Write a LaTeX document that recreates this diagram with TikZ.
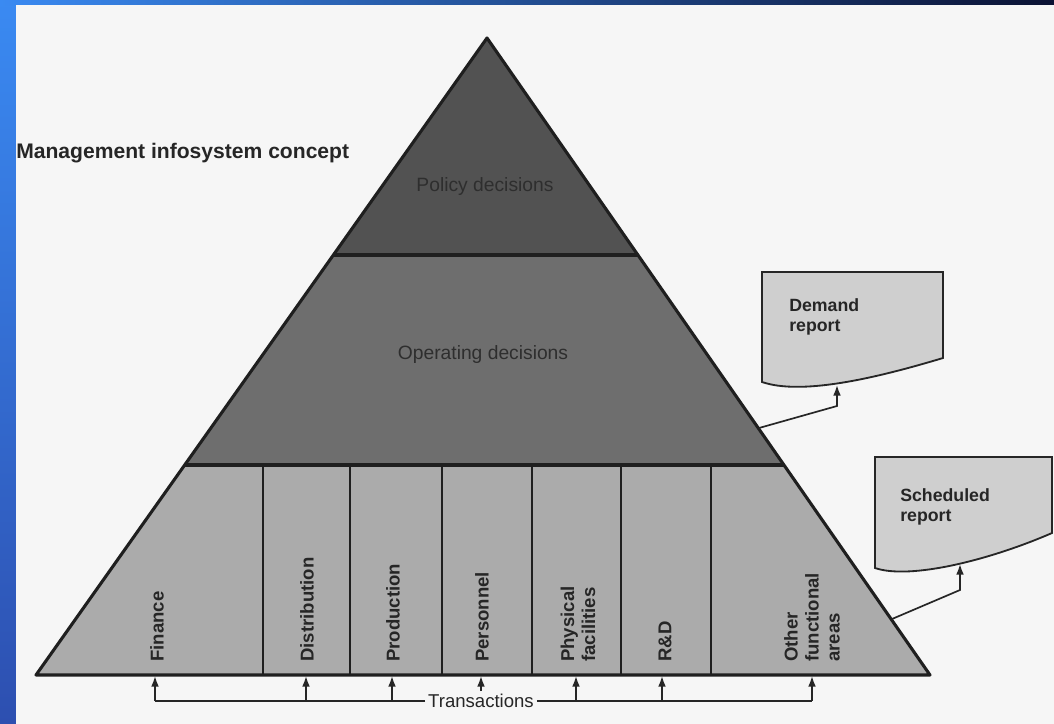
\documentclass[tikz,border=0pt]{standalone}
\usepackage{fontspec}
\setmainfont{Liberation Sans}
\usetikzlibrary{arrows.meta}

\definecolor{frameA}{HTML}{3A8AF2}
\definecolor{frameB}{HTML}{3F4CF8}
\definecolor{frameC}{HTML}{2D4FB0}
\definecolor{frameD}{HTML}{0B1233}
\definecolor{page}{HTML}{F6F6F6}

\begin{document}
\begin{tikzpicture}[x=0.025cm,y=-0.025cm,
  tier/.style={draw=black!88,line width=2.2pt,line join=round},
  split/.style={draw=black!88,line width=1.5pt},
  level/.style={inner sep=0pt,text=black!82,font=\fontsize{13.7}{16}\selectfont},
  func/.style={rotate=90,anchor=west,inner sep=0pt,align=left,text=black!85,font=\bfseries\fontsize{13.2}{15}\selectfont},
  report/.style={draw=black!85,line width=1.3pt,fill=black!19},
  rtext/.style={anchor=west,inner sep=0pt,align=left,text=black!85,font=\bfseries\fontsize{12.6}{14.2}\selectfont},
  wire/.style={draw=black!85,line width=1.2pt},
  feed/.style={wire,-{Latex[length=7.5pt,width=5.5pt]}}]
  \useasboundingbox (0,0) rectangle (1054,724);
  % slide frame and scanned page
  \shade[top color=frameA,middle color=frameB,bottom color=frameC] (0,0) rectangle (16,724);
  \shade[left color=frameA,right color=frameD] (0,0) rectangle (1054,5);
  \fill[page] (16,5) rectangle (1054,724);
  \node[anchor=west,inner sep=0pt,text=black!85,font=\bfseries\fontsize{15}{18}\selectfont] (title) at (16,153) {Management infosystem concept};
  % pyramid
  \coordinate (apex) at (487,38);
  \coordinate (bl) at (36,675);
  \coordinate (br) at (930,675);
  \coordinate (l1) at (333,255);
  \coordinate (r1) at (638,255);
  \coordinate (l2) at (185,465);
  \coordinate (r2) at (784,465);
  \fill[black!68] (apex) -- (l1) -- (r1) -- cycle;
  \fill[black!57] (l1) -- (l2) -- (r2) -- (r1) -- cycle;
  \fill[black!33] (l2) -- (bl) -- (br) -- (r2) -- cycle;
  \draw[tier] (apex) -- (bl) -- (br) -- cycle;
  \draw[tier] (l1) -- (r1);
  \draw[tier] (l2) -- (r2);
  \foreach \x in {263,350,442,532,621,711}
    \draw[split] (\x,465) -- (\x,675);
  \node[level] (policy) at (485,187) {Policy decisions};
  \node[level] (oper) at (483,355) {Operating decisions};
  % functional areas, read bottom to top
  \node[func] (fin) at (157,662) {Finance};
  \node[func] (dist) at (307,662) {Distribution};
  \node[func] (prod) at (393,662) {Production};
  \node[func] (pers) at (482,662) {Personnel};
  \node[func] (phys) at (578,662) {Physical\\facilities};
  \node[func] (rnd) at (665,662) {R\&D};
  \node[func] (other) at (812,662) {Other\\functional\\areas};
  % transactions feed every area
  \node[inner sep=2pt,text=black!85,font=\fontsize{13.2}{15}\selectfont] (trans) at (481,701) {Transactions};
  \foreach \n/\x in {1/155,2/306,3/392,4/481,5/576,6/662,7/812} {
    \coordinate (foot\n) at (\x,701);
    \coordinate (tip\n) at (\x,676);
  }
  \draw[wire] (trans.west) -- (foot1);
  \draw[wire] (trans.east) -- (foot7);
  \foreach \n in {1,2,3,5,6,7}
    \draw[feed] (foot\n) -- (tip\n);
  \draw[feed] (trans.north -| tip4) -- (tip4);
  % reports
  \draw[report] (762,382) -- (762,272) -- (943,272) -- (943,358)
    .. controls (870,380) and (800,395) .. (762,382) -- cycle;
  \node[rtext] (dmd) at (789,317) {Demand\\report};
  \draw[report] (875,568) -- (875,457) -- (1052,457) -- (1052,533)
    .. controls (990,560) and (910,580) .. (875,568) -- cycle;
  \node[rtext] (sched) at (900,507) {Scheduled\\report};
  \coordinate (dmdfoot) at (759,428);
  \coordinate (dmdbend) at (837,406);
  \coordinate (dmdtip) at (837,385);
  \coordinate (schfoot) at (892,619);
  \coordinate (schbend) at (960,590);
  \coordinate (schtip) at (960,564);
  \draw[feed] (dmdfoot) -- (dmdbend) -- (dmdtip);
  \draw[feed] (schfoot) -- (schbend) -- (schtip);
\end{tikzpicture}
\end{document}
